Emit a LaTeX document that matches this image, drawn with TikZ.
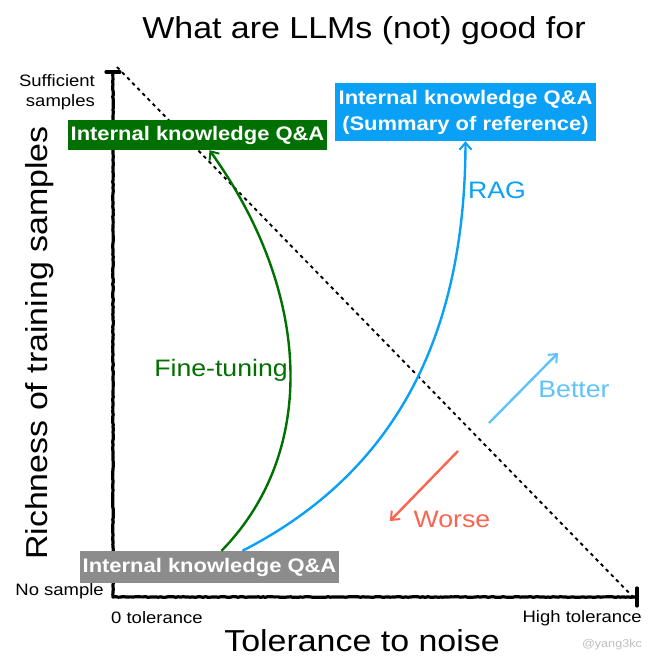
\documentclass[tikz,border=0pt]{standalone}
\usepackage{fontspec}
\setmainfont{Liberation Sans}[FakeStretch=1.12]
\usetikzlibrary{arrows.meta,decorations.pathmorphing}
\definecolor{ftgreen}{RGB}{0,112,0}
\definecolor{ragblue}{RGB}{10,160,245}
\definecolor{boxgray}{RGB}{140,140,140}
\definecolor{betterblue}{RGB}{95,195,250}
\definecolor{worsered}{RGB}{250,100,80}
\definecolor{credgray}{RGB}{190,190,190}
\tikzset{
  qabox/.style={inner sep=0pt, minimum height=30pt, text=white, font=\fontsize{19.6}{26}\selectfont\bfseries, align=center},
  axislabel/.style={font=\fontsize{16.5}{20}\selectfont, inner sep=0pt},
  bigtext/.style={font=\fontsize{30.3}{34}\selectfont, inner sep=0pt},
  midtext/.style={font=\fontsize{23.8}{28}\selectfont, inner sep=0pt},
  axisline/.style={line width=3.2pt, line cap=round, line join=round},
  roughline/.style={decorate, decoration={random steps, segment length=2.5pt, amplitude=0.4pt}},
  curvearrow/.style={line width=2.4pt, -{Straight Barb[length=7pt,width=12pt,line width=2pt]}},
  hintarrow/.style={line width=2.4pt, -{Straight Barb[length=7pt,width=12pt,line width=2pt]}},
}
\begin{document}
\begin{tikzpicture}[x=1pt,y=-1pt]
\useasboundingbox (0,0) rectangle (658,670);
% title
\node[bigtext] (title) at (364,31) {What are LLMs (not) good for};
% axes
\coordinate (ytop) at (113,72);
\coordinate (origin) at (113,597);
\coordinate (xend) at (637,597);
\draw[axisline, roughline] (ytop) -- (origin) -- (xend);
\draw[axisline] ([xshift=-7pt]ytop) -- ([xshift=7pt]ytop);
\draw[axisline] ([yshift=-9pt]xend) -- ([yshift=9pt]xend);
% diagonal
\draw[line width=1.9pt, dash pattern=on 3.5pt off 3.8pt] ([xshift=4pt,yshift=5pt]ytop) -- ([xshift=-1pt,yshift=-3pt]xend);
% axis tick labels
\node[axislabel, align=right, anchor=east] (suff) at (95,92) {Sufficient\\samples};
\node[axislabel, anchor=east] (nosample) at (104,591) {No sample};
\node[axislabel, anchor=west] (zerotol) at (111,618) {0 tolerance};
\node[axislabel, anchor=east] (hightol) at (642,618) {High tolerance};
% axis titles
\node[bigtext] (xtitle) at (362,641) {Tolerance to noise};
\node[bigtext, rotate=90] (ytitle) at (40,343) {Richness of training samples};
\node[font=\fontsize{11.3}{14}\selectfont, text=credgray, inner sep=0pt] (credit) at (612,645) {@yang3kc};
% boxes
\node[qabox, fill=ftgreen, minimum width=259pt] (greenbox) at (197.5,135) {Internal knowledge Q\&A};
\node[qabox, fill=ragblue, minimum width=261pt, minimum height=58pt] (bluebox) at (465.5,112) {Internal knowledge Q\&A\\(Summary of reference)};
\node[qabox, fill=boxgray, minimum width=259pt, minimum height=32pt] (graybox) at (209.5,567) {Internal knowledge Q\&A};
% curves
\draw[curvearrow, ftgreen] ([xshift=12pt]graybox.north) .. controls (320,450) and (310,290) .. ([xshift=12pt]greenbox.south);
\draw[curvearrow, ragblue] ([xshift=33pt]graybox.north) .. controls (400,470) and (465,330) .. (bluebox.south);
\node[midtext, text=ftgreen] (ftlabel) at (221,370) {Fine-tuning};
\node[midtext, text=ragblue] (raglabel) at (497,190) {RAG};
% better / worse
\coordinate (bstart) at (489,423);
\coordinate (bend) at (558,353);
\draw[hintarrow, betterblue] (bstart) -- (bend);
\node[midtext, text=betterblue] (betterlabel) at (574,389) {Better};
\coordinate (wstart) at (458,451);
\coordinate (wend) at (390,521);
\draw[hintarrow, worsered] (wstart) -- (wend);
\node[midtext, text=worsered] (worselabel) at (452,519) {Worse};
\end{tikzpicture}
\end{document}
